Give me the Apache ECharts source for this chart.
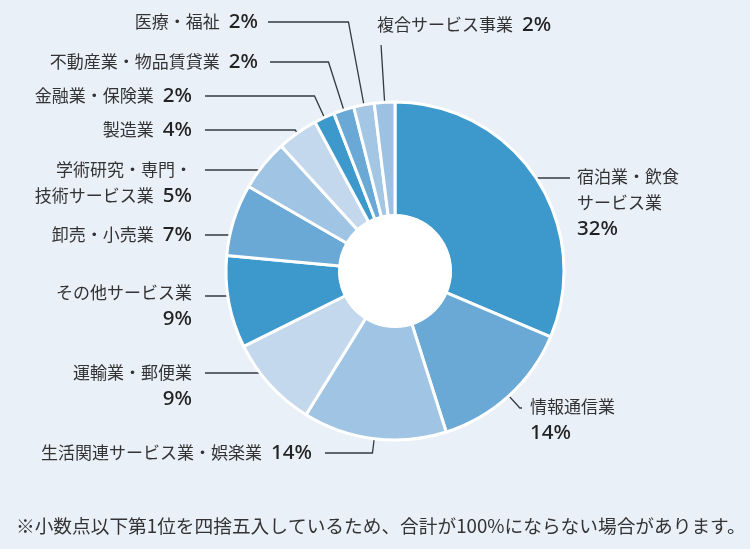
<!DOCTYPE html>
<html lang="ja">
<head>
<meta charset="utf-8">
<script src="https://cdn.jsdelivr.net/npm/echarts@6/dist/echarts.min.js"></script>
<style>
  html, body { margin: 0; padding: 0; background: #eaf0f8; }
  #chart { width: 750px; height: 549px; }
</style>
</head>
<body>
<div id="chart"></div>
<script>
// 業種名と割合（%）
const categories = [
  '宿泊業・飲食\nサービス業',
  '情報通信業',
  '生活関連サービス業・娯楽業',
  '運輸業・郵便業',
  'その他サービス業',
  '卸売・小売業',
  '学術研究・専門・\n技術サービス業',
  '製造業',
  '金融業・保険業',
  '不動産業・物品賃貸業',
  '医療・福祉',
  '複合サービス事業'
];
const values = [32, 14, 14, 9, 9, 7, 5, 4, 2, 2, 2, 2];

// 値を名前の下に置くかどうか
const valueBelow = [true, true, false, true, true, false, false, false, false, false, false, false];

const sliceColors = ['#3d99cc', '#6aa8d6', '#a0c4e4', '#c3d8ec', '#3d99cc', '#6aa8d6',
  '#a0c4e4', '#c3d8ec', '#3d99cc', '#6aa8d6', '#a3c6e5', '#9cc1e2'];

// ラベルの位置（x, 上端y, 揃え）と引き出し線の高さ・終点
const place = [
  { x: 577, y: 164, align: 'left',  ly: 178, lx: 570 },
  { x: 530, y: 394, align: 'left',  ly: 408, lx: 522 },
  { x: 312, y: 440, align: 'right', ly: 453, lx: 325 },
  { x: 192, y: 360, align: 'right', ly: 373, lx: 205 },
  { x: 192, y: 280, align: 'right', ly: 296, lx: 205 },
  { x: 192, y: 222, align: 'right', ly: 235, lx: 205 },
  { x: 192, y: 157, align: 'right', ly: 170, lx: 205 },
  { x: 192, y: 117, align: 'right', ly: 130, lx: 205 },
  { x: 192, y: 83,  align: 'right', ly: 96,  lx: 205 },
  { x: 258, y: 49,  align: 'right', ly: 62,  lx: 270 },
  { x: 258, y: 9,   align: 'right', ly: 22,  lx: 268 },
  { x: 377, y: 12,  align: 'left',  ly: 45,  lx: null }
];

const pieData = categories.map((name, i) => ({ name: name, value: values[i] }));
const center = [395, 271];

const chart = echarts.init(document.getElementById('chart'));

const option = {
  backgroundColor: '#eaf0f8',
  title: {
    text: '※小数点以下第1位を四捨五入しているため、合計が100%にならない場合があります。',
    left: 11,
    top: 512,
    textStyle: {
      fontFamily: 'Noto Sans CJK JP',
      fontSize: 18.7,
      fontWeight: 'normal',
      color: '#333'
    }
  },
  series: [
    {
      // 本体のドーナツ
      type: 'pie',
      center: center,
      radius: [55, 169],
      startAngle: 90,
      silent: true,
      data: pieData,
      color: sliceColors,
      itemStyle: { borderColor: '#ffffff', borderWidth: 3 },
      label: { show: false },
      labelLine: { show: false },
      emphasis: { disabled: true }
    },
    {
      // 中央の白い穴
      type: 'pie',
      center: center,
      radius: [0, 57],
      silent: true,
      data: [{ value: 1, name: '' }],
      itemStyle: { color: '#ffffff' },
      label: { show: false },
      labelLine: { show: false },
      emphasis: { disabled: true }
    },
    {
      // ラベル用（透明）
      type: 'pie',
      center: center,
      radius: [57, 150],
      startAngle: 90,
      silent: true,
      avoidLabelOverlap: false,
      data: pieData,
      itemStyle: { color: 'rgba(0,0,0,0)' },
      emphasis: { disabled: true },
      label: {
        show: true,
        position: 'outside',
        width: 320,
        overflow: 'none',
        formatter: function (p) {
          if (valueBelow[p.dataIndex]) {
            return '{n|' + p.name + '}\n{w|' + p.value + '%}';
          }
          return '{n|' + p.name + '}{v|' + p.value + '%}';
        },
        rich: {
          n: { fontFamily: 'Noto Sans CJK JP', fontSize: 17, color: '#333', lineHeight: 26 },
          v: { fontFamily: 'Noto Sans', fontSize: 20.5, fontWeight: 500, color: '#222', lineHeight: 26, padding: [0, 0, 0, 9] },
          w: { fontFamily: 'Noto Sans', fontSize: 20.5, fontWeight: 500, color: '#222', lineHeight: 26 }
        }
      },
      labelLine: {
        show: true,
        length: 10,
        length2: 10,
        lineStyle: { color: '#333a42', width: 1.3 }
      },
      labelLayout: function (params) {
        const i = params.dataIndex;
        const p = place[i];
        const pts = params.labelLinePoints;
        let line = null;
        if (pts) {
          const sx = pts[0][0], sy = pts[0][1];
          const ddx = pts[1][0] - sx, ddy = pts[1][1] - sy;
          const len = Math.sqrt(ddx * ddx + ddy * ddy) || 1;
          const ux = ddx / len, uy = ddy / len;
          if (Math.abs(sy - p.ly) < 12 && p.lx != null) {
            line = [[sx, p.ly], [sx, p.ly], [p.lx, p.ly]];
          } else {
            const t = (p.ly - sy) / uy;
            const ex = sx + ux * t;
            line = [[sx, sy], [ex, p.ly]];
            if (p.lx != null) line.push([p.lx, p.ly]);
          }
        }
        return {
          x: p.x,
          y: p.y,
          align: p.align,
          verticalAlign: 'top',
          labelLinePoints: line
        };
      }
    }
  ]
};

chart.setOption(option);
</script>
</body>
</html>
